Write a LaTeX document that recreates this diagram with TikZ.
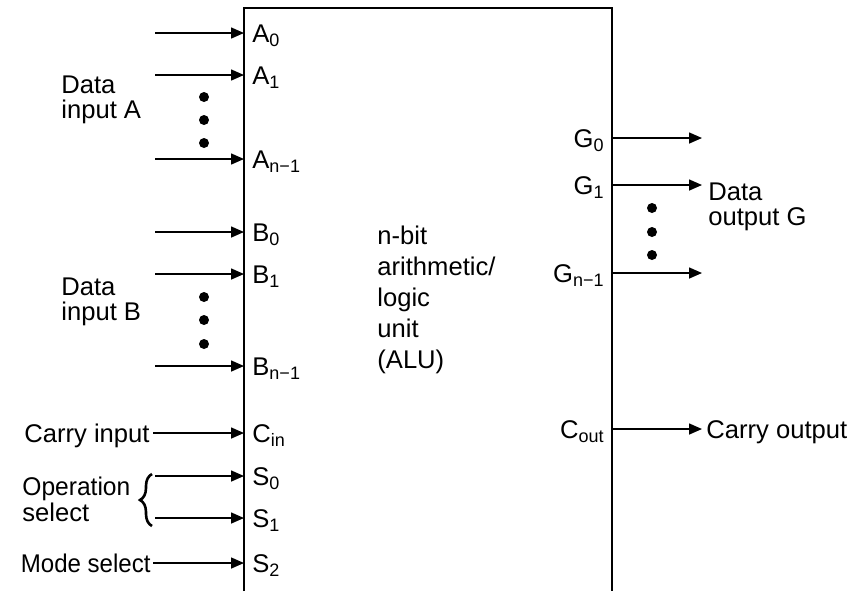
\documentclass[tikz,border=0pt]{standalone}
\usepackage{fontspec}
\setmainfont{Liberation Sans}
\usetikzlibrary{arrows.meta,decorations.pathreplacing}
\newcommand{\subs}[1]{\raisebox{-2.3pt}{\fontsize{9}{9}\selectfont #1}}

\begin{document}
\begin{tikzpicture}[x=0.5pt,y=-0.5pt,
    t/.style={inner sep=0pt,font=\fontsize{12.8}{12.5}\selectfont},
    p/.style={t,text height=9.1pt,text depth=0pt},
    m/.style={t,align=left},
    a/.style={-{Triangle[length=6.5pt,width=5.5pt]},line width=0.75pt},
    d/.style={circle,fill,inner sep=0pt,minimum size=5pt}]
  \useasboundingbox (0,0) rectangle (850,591);
  % ALU body, open at the bottom
  \draw[line width=1.4pt] (244,591) |- (612,8) -- (612,591);
  \node[m,anchor=north west,font=\fontsize{12.8}{15.5}\selectfont] (alu) at (377,226)
    {n-bit\\arithmetic/\\logic\\unit\\(ALU)};
  % input pins
  \foreach \nm/\yy/\s in {a0/33/A\subs{0},a1/75/A\subs{1},an/159/A\subs{n−1},
      b0/232/B\subs{0},b1/274/B\subs{1},bn/366/B\subs{n−1},
      cin/433/C\subs{in},s0/476/S\subs{0},s1/518/S\subs{1},s2/563/S\subs{2}}{
    \coordinate (\nm) at (244,\yy);
    \node[p,anchor=west] (\nm-l) at (252,\yy) {\s};
  }
  \foreach \nm in {a0,a1,an,b0,b1,bn,s0,s1}{
    \path (\nm) ++(-89,0) coordinate (\nm-src);
    \draw[a] (\nm-src) -- (\nm);
  }
  \node[m,anchor=north west] (ina) at (61,75) {Data\\input A};
  \node[m,anchor=north west] (inb) at (61,277) {Data\\input B};
  \node[p,anchor=east,inner xsep=1.5pt] (cin-t) at (153,433) {Carry input};
  \draw[a] (cin-t) -- (cin);
  \node[m,anchor=north west,font=\fontsize{12.8}{11.8}\selectfont] (op) at (22,477)
    {\scalebox{0.96}[1]{Operation}\\select};
  \draw[line width=1.3pt,decorate,decoration={brace,amplitude=6pt}]
    (152,526) coordinate (br-b) -- (152,474) coordinate (br-t);
  \node[p,anchor=east,inner xsep=1pt] (s2-t) at (153,563) {\scalebox{0.94}[1]{Mode select}};
  \draw[a] (s2-t) -- (s2);
  % output pins
  \foreach \nm/\yy/\s in {g0/138/G\subs{0},g1/185/G\subs{1},gn/273/G\subs{n−1},
      cout/429/C\subs{out}}{
    \coordinate (\nm) at (612,\yy);
    \node[p,anchor=east] (\nm-l) at (604,\yy) {\s};
  }
  \foreach \nm in {g0,g1,gn}{
    \path (\nm) ++(90,0) coordinate (\nm-dst);
    \draw[a] (\nm) -- (\nm-dst);
  }
  \node[m,anchor=north west] (gout) at (708,182) {Data\\output G};
  \node[p,anchor=west,inner xsep=2pt] (cout-t) at (702,429) {Carry output};
  \draw[a] (cout) -- (cout-t);
  % dots
  \foreach \xx/\yy [count=\i] in {204/97,204/120,204/143,204/297,204/320,204/344,
      652/208,652/232,652/255}
    \node[d] (dot\i) at (\xx,\yy) {};
\end{tikzpicture}
\end{document}
